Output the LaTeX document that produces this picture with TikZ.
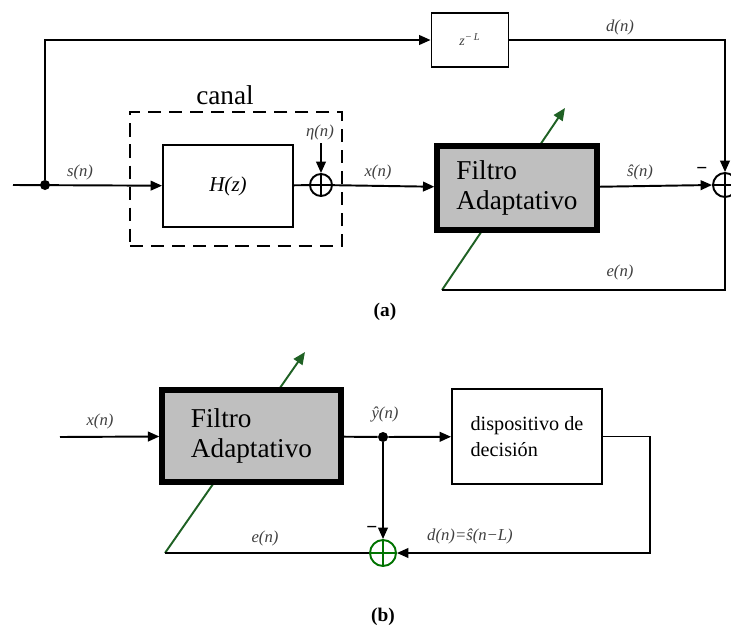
\documentclass[tikz,border=0pt]{standalone}
\usepackage{fontspec}
\setmainfont{Liberation Serif}
\usetikzlibrary{arrows.meta,positioning,calc}
\definecolor{adaptgreen}{rgb}{0.12,0.38,0.14}

\begin{document}
\begin{tikzpicture}[x=0.02cm, y=-0.02cm,
  block/.style={draw, line width=1.1pt, inner sep=0pt, font=\fontsize{12}{14}\selectfont\itshape},
  filtro/.style={draw, line width=3pt, fill=black!25, align=left, inner sep=0pt, font=\fontsize{15.5}{17.5}\selectfont},
  sumj/.style={circle, draw, line width=1.1pt, inner sep=0pt, minimum size=#1,
    path picture={\draw[line width=1.1pt] (path picture bounding box.north) -- (path picture bounding box.south)
      (path picture bounding box.west) -- (path picture bounding box.east);}},
  dot/.style={circle, fill, inner sep=0pt, minimum size=0.2cm},
  wire/.style={line width=1.1pt},
  arrow/.style={-{Triangle[length=6.5pt, width=5.5pt]}, line width=1.1pt},
  adapt/.style={-{Triangle[length=7pt, width=6pt]}, line width=1.1pt, draw=adaptgreen},
  sig/.style={font=\fontsize{9.5}{11}\selectfont\itshape, text=black!75},
  minus/.style={font=\fontsize{11}{12}\selectfont\bfseries},
  sub/.style={font=\fontsize{11}{13}\selectfont\bfseries},
]
  \useasboundingbox (0,0) rectangle (731,629);

  % free ends
  \coordinate (ina) at (13,185);
  \coordinate (eta) at (321,143);
  \coordinate (ea) at (442,290);
  \coordinate (tipa) at (565,108);
  \coordinate (inb) at (60,437);
  \coordinate (eb) at (165,553);
  \coordinate (tipb) at (305,352);
  \coordinate (retb) at (650,553);

  % adaptation arrows (under the filters)
  \draw[adapt] (ea) -- (tipa);
  \draw[adapt] (eb) -- (tipb);

  % (a) blocks
  \node[draw, dash pattern=on 7.5pt off 4.5pt, line width=1.1pt, minimum width=4.24cm, minimum height=2.68cm] (canal) at (236,179) {};
  \node[font=\fontsize{15.5}{17}\selectfont] (canallbl) at (225,95) {canal};
  \node[dot] (dot1) at (45,185) {};
  \node[block, minimum width=2.6cm, minimum height=1.64cm] (hz) at (228,186) {H(z)};
  \node[sumj=0.44cm] (sum1) at (321,185) {};
  \node[block, minimum width=1.54cm, minimum height=1.08cm, font=\fontsize{8}{9}\selectfont\itshape, text=black!75] (zl) at (470,40) {z\textsuperscript{−\,L}};
  \node[filtro, minimum width=3.2cm, minimum height=1.68cm] (fila) at (517,188) {Filtro\\Adaptativo};
  \node[sumj=0.48cm] (sum2) at (725,185) {};

  % (a) connections
  \draw[arrow] (ina) -- (hz);
  \draw[arrow] (dot1) |- (zl);
  \draw[wire] (hz) -- (sum1);
  \draw[arrow] (eta) -- (sum1.north);
  \draw[arrow] (sum1) -- (fila);
  \draw[arrow] (zl) -| (sum2.north);
  \draw[arrow] (fila) -- (sum2.west);
  \draw[wire] (sum2.south) |- (ea);

  % (a) labels
  \node[sig] at (80,172) {s(n)};
  \node[sig] at (320,132) {η(n)};
  \node[sig] at (378,172) {x(n)};
  \node[sig] at (620,27) {d(n)};
  \node[sig] at (640,172) {ŝ(n)};
  \node[minus] at (702,171) {−};
  \node[sig] at (620,272) {e(n)};
  \node[sub] at (385,312) {(a)};

  % (b) blocks
  \node[filtro, minimum width=3.58cm, minimum height=1.84cm] (filb) at (251.5,436) {Filtro\\Adaptativo};
  \node[dot] (dot2) at (383,437) {};
  \node[draw, line width=1.1pt, minimum width=3cm, minimum height=1.9cm, align=left, inner sep=0pt, font=\fontsize{11.5}{15}\selectfont] (dec) at (527,436.5) {dispositivo de\\decisión};
  \node[sumj=0.52cm, draw=green!45!black] (sum3) at (383,553) {};

  % (b) connections
  \draw[arrow] (inb) -- (filb);
  \draw[wire] (filb) -- (dot2);
  \draw[arrow] (dot2) -- (dec);
  \draw[arrow] (dot2) -- (sum3);
  \draw[arrow] (dec.east) -| (retb) -- (sum3.east);
  \draw[wire] (sum3.west) -- (eb);

  % (b) labels
  \node[sig] at (100,421) {x(n)};
  \node[sig] at (385,414) {ŷ(n)};
  \node[minus] at (372,530) {−};
  \node[sig] at (470,536) {d(n)=ŝ(n−L)};
  \node[sig] at (265,538) {e(n)};
  \node[sub] at (383,617) {(b)};
\end{tikzpicture}
\end{document}
